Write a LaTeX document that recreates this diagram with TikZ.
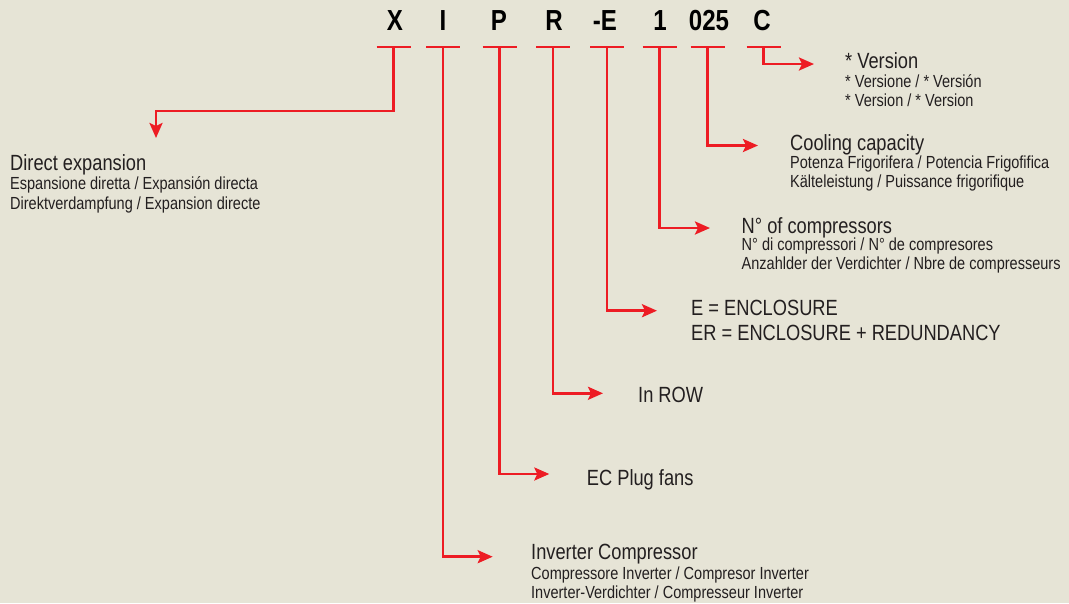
\documentclass[tikz,border=0pt]{standalone}
\usepackage{fontspec}
\setmainfont{Liberation Sans}[FakeStretch=0.83]
\usetikzlibrary{arrows.meta}
\definecolor{bg}{HTML}{E6E4D6}
\definecolor{cred}{HTML}{ED1C24}
\definecolor{ink}{HTML}{231F20}
\begin{document}
\begin{tikzpicture}[x=1pt,y=-1pt,
  code/.style={font=\fontsize{29}{29}\selectfont\bfseries, text=black, anchor=base, inner sep=0},
  bar/.style={draw=cred, line width=2.6pt},
  conn/.style={draw=cred, line width=2.6pt, -{Stealth[length=15pt,width=13pt,inset=3pt]}},
  title/.style={font=\fontsize{22}{24}\selectfont, text=ink, anchor=base west, inner sep=0},
  sub/.style={font=\fontsize{17.5}{19}\selectfont, text=ink, anchor=base west, inner sep=0}
]
\fill[bg] (0,0) rectangle (1069,603);
\useasboundingbox (0,0) rectangle (1069,603);

% code letters
\node[code] (cX) at (395,30.7) {X};
\node[code] (cI) at (443,30.7) {I};
\node[code] (cP) at (499,30.7) {P};
\node[code] (cR) at (554,30.7) {R};
\node[code] (cE) at (605,30.7) {-E};
\node[code] (c1) at (660,30.7) {1};
\node[code] (c025) at (709,30.7) {025};
\node[code] (cC) at (762,30.7) {C};

% bar centres
\coordinate (bX) at (393.5,47);
\coordinate (bI) at (443,47);
\coordinate (bP) at (499.5,47);
\coordinate (bR) at (553,47);
\coordinate (bE) at (607,47);
\coordinate (b1) at (659.5,47);
\coordinate (b025) at (707.5,47);
\coordinate (bC) at (763.5,47);
\foreach \b in {bX,bI,bP,bR,bE,b1,b025,bC}
  \draw[bar] ([xshift=-17pt]\b) -- ([xshift=17pt]\b);

% arrow tips
\coordinate (jX) at (156,111);
\coordinate (tX) at (156,138);
\coordinate (tC) at (814,64);
\coordinate (t025) at (758,145.5);
\coordinate (t1) at (710,228);
\coordinate (tE) at (657,310.7);
\coordinate (tR) at (603,393.3);
\coordinate (tP) at (549.3,474);
\coordinate (tI) at (492.7,556.7);

\draw[conn] (bX) |- (jX) -- (tX);
\draw[conn] (bC) |- (tC);
\draw[conn] (b025) |- (t025);
\draw[conn] (b1) |- (t1);
\draw[conn] (bE) |- (tE);
\draw[conn] (bR) |- (tR);
\draw[conn] (bP) |- (tP);
\draw[conn] (bI) |- (tI);

% descriptions
\node[title] (dX) at (10,170) {Direct expansion};
\node[sub] (dXa) at (10,189.5) {Espansione diretta / Expansión directa};
\node[sub] (dXb) at (10,209.5) {Direktverdampfung / Expansion directe};

\node[title] (dC) at (845,68.3) {* Version};
\node[sub] (dCa) at (845,87.7) {* Versione / * Versión};
\node[sub] (dCb) at (845,106.7) {* Version / * Version};

\node[title] (d025) at (790,150) {Cooling capacity};
\node[sub] (d025a) at (790,168.3) {Potenza Frigorifera / Potencia Frigofifica};
\node[sub] (d025b) at (790,187) {Kälteleistung / Puissance frigorifique};

\node[title] (d1) at (741.5,233.3) {N° of compressors};
\node[sub] (d1a) at (741.5,250.5) {N° di compressori / N° de compresores};
\node[sub] (d1b) at (741.5,269.5) {Anzahlder der Verdichter / Nbre de compresseurs};

\node[title] (dE) at (691,315.7) {E = ENCLOSURE};
\node[title] (dEb) at (691,340) {ER = ENCLOSURE + REDUNDANCY};

\node[title] (dR) at (638,402.7) {In ROW};

\node[title] (dP) at (586.7,485) {EC Plug fans};

\node[title] (dI) at (531,559.3) {Inverter Compressor};
\node[sub] (dIa) at (531,579.3) {Compressore Inverter / Compresor Inverter};
\node[sub] (dIb) at (531,598.3) {Inverter-Verdichter / Compresseur Inverter};
\end{tikzpicture}
\end{document}
